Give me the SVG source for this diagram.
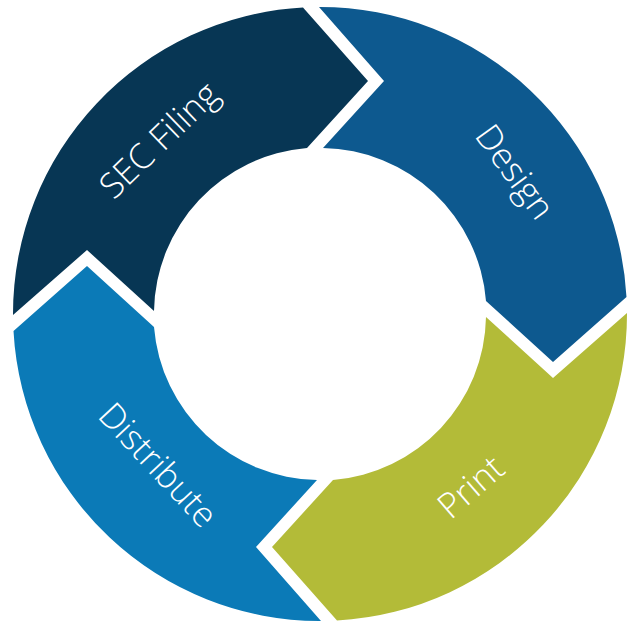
<svg xmlns="http://www.w3.org/2000/svg" width="629" height="621" viewBox="0 0 629 621">
<style>
.lbl{font-family:"Open Sans","Noto Sans","Liberation Sans",sans-serif;font-weight:300;font-size:35px;fill:#ffffff;text-anchor:middle;dominant-baseline:central}
</style>
<defs>
<path id="seg" d="M -307,1 A 307 307 0 0 1 -17,-306.5 L 48,-233 L -13,-166 A 166.5 166.5 0 0 0 -166,-3 L -233,-64 Z"/>
</defs>
<rect width="629" height="621" fill="#ffffff"/>
<g id="sec-filing">
<use href="#seg" transform="translate(320,314)" fill="#073654"/>
<text class="lbl" transform="translate(158,139) rotate(-44)">SEC Filing</text>
</g>
<g id="design">
<use href="#seg" transform="translate(320,314) rotate(90)" fill="#0D598F"/>
<text class="lbl" transform="translate(516,171) rotate(54)">Design</text>
</g>
<g id="print">
<use href="#seg" transform="translate(320,314) rotate(180)" fill="#B3BB38"/>
<text class="lbl" transform="translate(470,486) rotate(-41)">Print</text>
</g>
<g id="distribute">
<use href="#seg" transform="translate(320,314) rotate(270)" fill="#0B7AB7"/>
<text class="lbl" transform="translate(159,464) rotate(47)">Distribute</text>
</g>
<g id="connectors"></g>
</svg>
